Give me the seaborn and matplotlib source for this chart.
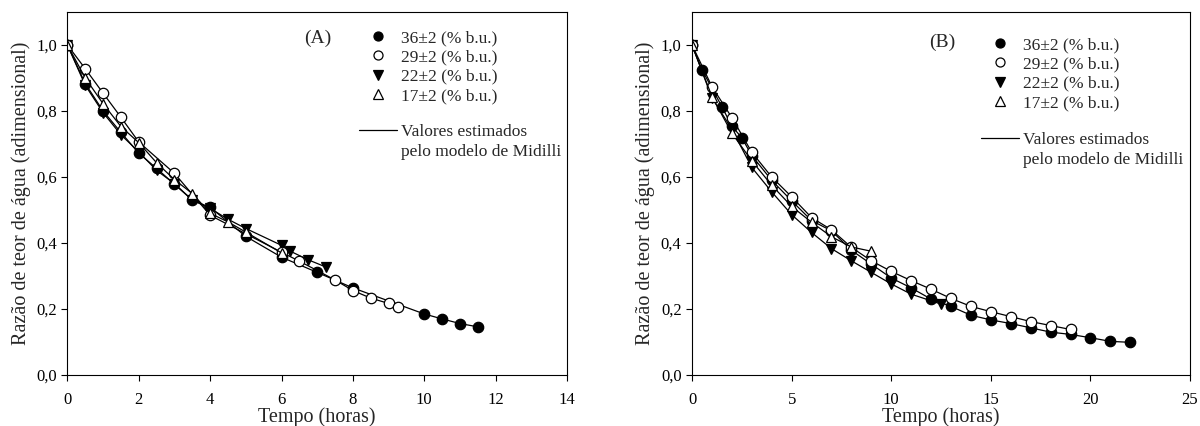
"""
Curvas de secagem: razão de teor de água x tempo, painéis (A) e (B)
"""
import seaborn as sns
import matplotlib

matplotlib.use('Agg')
import matplotlib.pyplot as plt
from matplotlib.lines import Line2D
from matplotlib.ticker import FuncFormatter

sns.set_theme(style='white')
plt.rcParams['font.family'] = ['Liberation Serif', 'DejaVu Serif']

# ==================== dados ====================
SERIES = ['36±2 (% b.u.)', '29±2 (% b.u.)', '22±2 (% b.u.)', '17±2 (% b.u.)']

# painel (A)
tA_36 = [0, 0.5, 1, 1.5, 2, 2.5, 3, 3.5, 4, 5, 6, 7, 8, 10, 10.5, 11, 11.5]
mrA_36 = [1.0, 0.883, 0.800, 0.735, 0.672, 0.626, 0.578, 0.530, 0.508, 0.420,
          0.357, 0.311, 0.264, 0.185, 0.170, 0.156, 0.146]
tA_29 = [0, 0.5, 1, 1.5, 2, 3, 4, 6, 6.5, 7.5, 8, 8.5, 9, 9.25]
mrA_29 = [1.0, 0.928, 0.854, 0.781, 0.706, 0.611, 0.484, 0.372, 0.345, 0.288,
          0.256, 0.233, 0.217, 0.207]
tA_22 = [0, 0.5, 1, 1.5, 2, 2.5, 3, 3.5, 4, 4.5, 5, 6, 6.25, 6.75, 7.25]
mrA_22 = [1.0, 0.878, 0.795, 0.728, 0.676, 0.620, 0.580, 0.530, 0.505, 0.472,
          0.444, 0.393, 0.375, 0.349, 0.327]
tA_17 = [0, 0.5, 1, 1.5, 2, 2.5, 3, 3.5, 4, 4.5, 5, 6]
mrA_17 = [1.0, 0.900, 0.822, 0.753, 0.704, 0.643, 0.592, 0.550, 0.490, 0.464,
          0.433, 0.370]

# painel (B)
tB_36 = [0, 0.5, 1.5, 2, 2.5, 3, 4, 5, 6, 7, 8, 9, 10, 11, 12, 13, 14, 15, 16,
         17, 18, 19, 20, 21, 22]
mrB_36 = [1.0, 0.925, 0.813, 0.754, 0.719, 0.665, 0.590, 0.528, 0.468, 0.437,
          0.378, 0.336, 0.294, 0.264, 0.230, 0.208, 0.181, 0.167, 0.156, 0.143,
          0.130, 0.123, 0.113, 0.102, 0.099]
tB_29 = [0, 1, 2, 3, 4, 5, 6, 7, 8, 9, 10, 11, 12, 13, 14, 15, 16, 17, 18, 19]
mrB_29 = [1.0, 0.874, 0.780, 0.675, 0.600, 0.540, 0.477, 0.440, 0.387, 0.346,
          0.314, 0.286, 0.260, 0.232, 0.208, 0.192, 0.177, 0.162, 0.150, 0.138]
tB_22 = [0, 1, 2, 3, 4, 5, 6, 7, 8, 9, 10, 11, 12.5]
mrB_22 = [1.0, 0.840, 0.745, 0.629, 0.555, 0.486, 0.432, 0.383, 0.346, 0.311,
          0.276, 0.245, 0.215]
tB_17 = [0, 1, 2, 3, 4, 5, 6, 7, 8, 9]
mrB_17 = [1.0, 0.844, 0.733, 0.649, 0.575, 0.511, 0.463, 0.419, 0.388, 0.375]

# marcador e preenchimento de cada série
MARKERS = {
    SERIES[0]: ('o', 'black'),
    SERIES[1]: ('o', 'white'),
    SERIES[2]: ('v', 'black'),
    SERIES[3]: ('^', 'white'),
}
DRAW_ORDER = [SERIES[0], SERIES[2], SERIES[1], SERIES[3]]

LABEL_SIZE = 14.5
TICK_SIZE = 12
LEGEND_SIZE = 12.5


def comma(v, pos):
    return f"{v:.1f}".replace('.', ',')


def draw_panel(ax, data, xmax, xstep):
    for name in DRAW_ORDER:
        t, mr = data[name]
        marker, face = MARKERS[name]
        sns.lineplot(x=t, y=mr, ax=ax, color='black', linewidth=0.9,
                     marker=marker, markersize=7.5, markerfacecolor=face,
                     markeredgecolor='black', markeredgewidth=0.9,
                     legend=False, sort=False)
    ax.set_xlim(0, xmax)
    ax.set_ylim(0, 1.1)
    ax.set_xticks(range(0, xmax + 1, xstep))
    ax.set_yticks([0, 0.2, 0.4, 0.6, 0.8, 1.0])
    ax.yaxis.set_major_formatter(FuncFormatter(comma))
    ax.tick_params(axis='both', direction='out', length=4, width=0.8,
                   labelsize=TICK_SIZE, bottom=True, left=True, colors='black')
    ax.tick_params(axis='x', pad=8)
    for sp in ax.spines.values():
        sp.set_color('black')
        sp.set_linewidth(0.8)
    ax.set_xlabel('Tempo (horas)', fontsize=LABEL_SIZE, labelpad=0)
    ax.set_ylabel('Razão de teor de água (adimensional)', fontsize=LABEL_SIZE)


fig = plt.figure(figsize=(12, 4.26), dpi=100)
axA = fig.add_axes([0.0562, 0.1197, 0.4163, 0.852])
axB = fig.add_axes([0.5767, 0.1197, 0.415, 0.852])

dataA = {SERIES[0]: (tA_36, mrA_36), SERIES[1]: (tA_29, mrA_29),
         SERIES[2]: (tA_22, mrA_22), SERIES[3]: (tA_17, mrA_17)}
dataB = {SERIES[0]: (tB_36, mrB_36), SERIES[1]: (tB_29, mrB_29),
         SERIES[2]: (tB_22, mrB_22), SERIES[3]: (tB_17, mrB_17)}

draw_panel(axA, dataA, 14, 2)
draw_panel(axB, dataB, 25, 5)

# legendas (posição em pixels da figura)
marker_handles = [Line2D([], [], ls='none', marker=MARKERS[s][0], ms=6.5,
                         mfc=MARKERS[s][1], mec='black', mew=0.9) for s in SERIES]
line_handles = [Line2D([], [], color='black', lw=0.9),
                Line2D([], [], color='none')]
line_labels = ['Valores estimados', 'pelo modelo de Midilli']

W, H = 1200, 426
for ax, tag, tag_xy, left, top1, top2 in [
        (axA, '(A)', (318, 38), 359, 30, 124),
        (axB, '(B)', (942, 42), 981, 37, 132)]:
    fig.text(tag_xy[0] / W, 1 - tag_xy[1] / H, tag, fontsize=14,
             ha='center', va='center')
    leg1 = ax.legend(marker_handles, SERIES, loc='upper left',
                     bbox_to_anchor=(left / W, 1 - top1 / H),
                     bbox_transform=fig.transFigure, frameon=False,
                     fontsize=LEGEND_SIZE, handlelength=2.2, handletextpad=0.2,
                     labelspacing=0.18, borderpad=0, borderaxespad=0)
    ax.add_artist(leg1)
    ax.legend(line_handles, line_labels, loc='upper left',
              bbox_to_anchor=(left / W, 1 - top2 / H),
              bbox_transform=fig.transFigure, frameon=False,
              fontsize=LEGEND_SIZE, handlelength=2.2, handletextpad=0.2,
              labelspacing=0.2, borderpad=0, borderaxespad=0)

fig.savefig('out.png', dpi=100)
plt.close('all')
